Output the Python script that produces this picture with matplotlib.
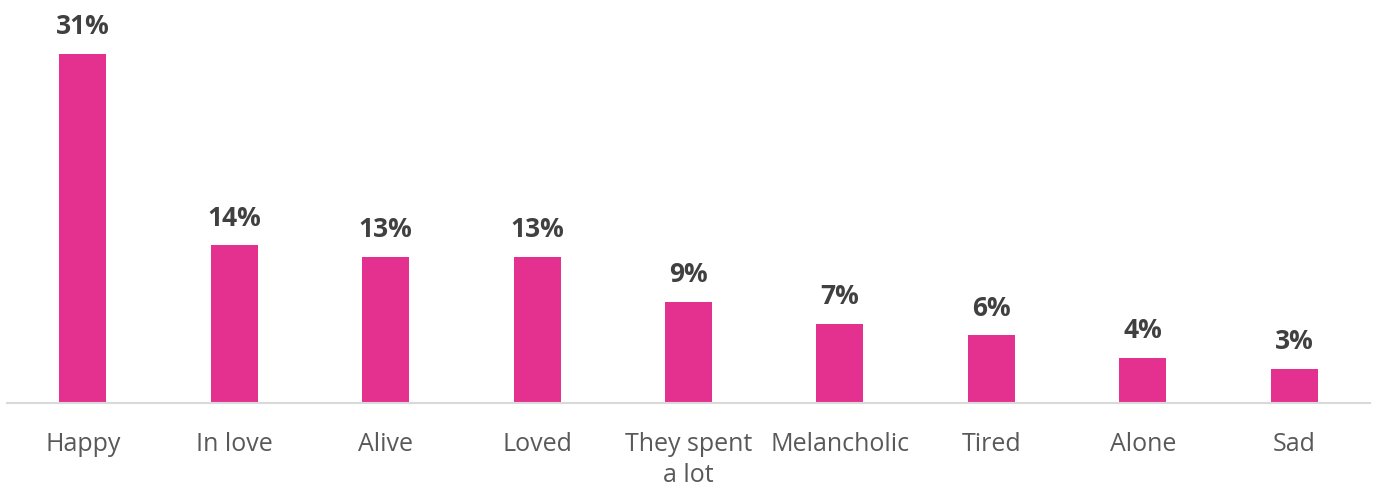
import matplotlib.pyplot as plt

plt.rcParams['font.family'] = ['Open Sans', 'DejaVu Sans']

categories = ['Happy', 'In love', 'Alive', 'Loved', 'They spent\na lot',
              'Melancholic', 'Tired', 'Alone', 'Sad']
shares = [31, 14, 13, 13, 9, 7, 6, 4, 3]

fig = plt.figure(figsize=(13.82, 4.88), dpi=100)
ax = fig.add_axes([7 / 1382, 85 / 488, 1363 / 1382, 403 / 488])

x = range(len(categories))
bars = ax.bar(x, shares, width=0.31, color='#E4308F', zorder=2)

for rect, v in zip(bars, shares):
    ax.annotate(f'{v}%', (rect.get_x() + rect.get_width() / 2, rect.get_height()),
                xytext=(0, 10), textcoords='offset points',
                ha='center', va='bottom', fontsize=19, fontweight='bold',
                color='#404040')

ax.set_xlim(-0.5, len(categories) - 0.5)
ax.set_ylim(0, 35.8)
ax.set_xticks(list(x))
ax.set_xticklabels(categories, fontsize=18, color='#595959', linespacing=1.3)
ax.tick_params(axis='x', length=0, pad=21)
ax.set_yticks([])

for side in ['top', 'right', 'left']:
    ax.spines[side].set_visible(False)
ax.spines['bottom'].set_color('#D9D9D9')
ax.spines['bottom'].set_linewidth(1.5)

fig.savefig('out.png', dpi=100)
